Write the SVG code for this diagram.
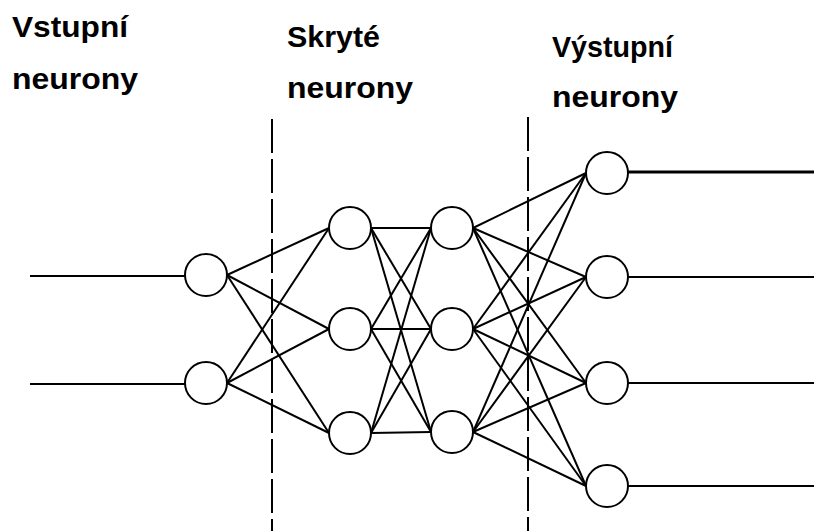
<svg xmlns="http://www.w3.org/2000/svg" width="814" height="531" viewBox="0 0 814 531">
<style>
.lbl{font-family:"Liberation Sans",Arial,sans-serif;font-weight:bold;font-size:30px;fill:#000}
.n{fill:#fff;stroke:#000;stroke-width:2}
.c line{stroke:#000;stroke-width:2}
.d{stroke:#000;stroke-width:2;stroke-dasharray:34 6}
</style>
<rect width="814" height="531" fill="#fff"/>
<g id="labels">
<text class="lbl" x="12" y="37" textLength="116" lengthAdjust="spacingAndGlyphs">Vstupní</text>
<text class="lbl" x="12" y="89" textLength="126" lengthAdjust="spacingAndGlyphs">neurony</text>
<text class="lbl" x="287" y="47" textLength="93" lengthAdjust="spacingAndGlyphs">Skryté</text>
<text class="lbl" x="287" y="98" textLength="126" lengthAdjust="spacingAndGlyphs">neurony</text>
<text class="lbl" x="552" y="57" textLength="121" lengthAdjust="spacingAndGlyphs">Výstupní</text>
<text class="lbl" x="552" y="107" textLength="126" lengthAdjust="spacingAndGlyphs">neurony</text>
</g>
<g id="dividers">
<line class="d" x1="272" y1="119" x2="272" y2="531"/>
<line class="d" x1="528" y1="117" x2="528" y2="531"/>
</g>
<g id="connectors" class="c">
<line x1="30" y1="276" x2="185" y2="276"/>
<line x1="30" y1="384" x2="185" y2="384"/>
<line x1="227" y1="275" x2="329" y2="228"/>
<line x1="227" y1="275" x2="329" y2="329"/>
<line x1="227" y1="275" x2="329" y2="433"/>
<line x1="227" y1="383" x2="329" y2="228"/>
<line x1="227" y1="383" x2="329" y2="329"/>
<line x1="227" y1="383" x2="329" y2="433"/>
<line x1="371" y1="228" x2="431" y2="228"/>
<line x1="371" y1="228" x2="431" y2="329"/>
<line x1="371" y1="228" x2="431" y2="432"/>
<line x1="371" y1="329" x2="431" y2="228"/>
<line x1="371" y1="329" x2="431" y2="329"/>
<line x1="371" y1="329" x2="431" y2="432"/>
<line x1="371" y1="433" x2="431" y2="228"/>
<line x1="371" y1="433" x2="431" y2="329"/>
<line x1="371" y1="433" x2="431" y2="432"/>
<line x1="473" y1="228" x2="586" y2="173"/>
<line x1="473" y1="228" x2="586" y2="277"/>
<line x1="473" y1="228" x2="586" y2="383"/>
<line x1="473" y1="228" x2="586" y2="486"/>
<line x1="473" y1="329" x2="586" y2="173"/>
<line x1="473" y1="329" x2="586" y2="277"/>
<line x1="473" y1="329" x2="586" y2="383"/>
<line x1="473" y1="329" x2="586" y2="486"/>
<line x1="473" y1="432" x2="586" y2="173"/>
<line x1="473" y1="432" x2="586" y2="277"/>
<line x1="473" y1="432" x2="586" y2="383"/>
<line x1="473" y1="432" x2="586" y2="486"/>
<line x1="628" y1="172" x2="814" y2="172" style="stroke-width:3"/>
<line x1="628" y1="277" x2="814" y2="277"/>
<line x1="628" y1="383" x2="814" y2="383"/>
<line x1="628" y1="486" x2="814" y2="486"/>
</g>
<g id="in1"><circle class="n" cx="206" cy="275" r="21"/></g>
<g id="in2"><circle class="n" cx="206" cy="383" r="21"/></g>
<g id="h1a"><circle class="n" cx="350" cy="228" r="21"/></g>
<g id="h1b"><circle class="n" cx="350" cy="329" r="21"/></g>
<g id="h1c"><circle class="n" cx="350" cy="433" r="21"/></g>
<g id="h2a"><circle class="n" cx="452" cy="228" r="21"/></g>
<g id="h2b"><circle class="n" cx="452" cy="329" r="21"/></g>
<g id="h2c"><circle class="n" cx="452" cy="432" r="21"/></g>
<g id="o1"><circle class="n" cx="607" cy="173" r="21"/></g>
<g id="o2"><circle class="n" cx="607" cy="277" r="21"/></g>
<g id="o3"><circle class="n" cx="607" cy="383" r="21"/></g>
<g id="o4"><circle class="n" cx="607" cy="486" r="21"/></g>
</svg>
